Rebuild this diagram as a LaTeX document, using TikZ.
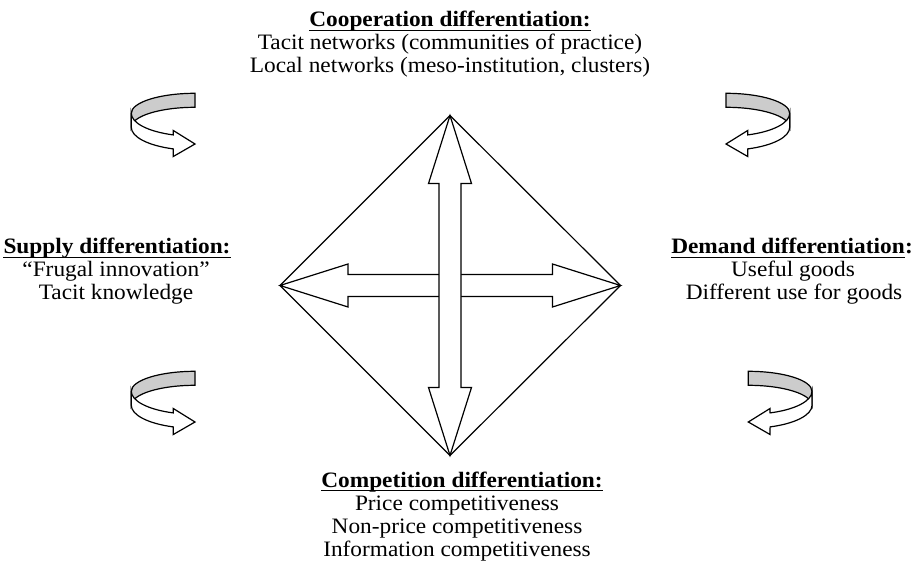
\documentclass[tikz,border=0pt]{standalone}
\usepackage{fontspec}
\setmainfont[FakeStretch=1.06]{Liberation Serif}
\begin{document}
\begin{tikzpicture}[x=1pt,y=1pt,
  shape line/.style={draw=black, line width=1.2pt, line join=miter},
  band back/.style={shape line, fill=black!20},
  band front/.style={shape line, fill=white},
  txt/.style={inner sep=0pt, anchor=base, font=\fontsize{22}{23}\selectfont},
  hdr/.style={inner sep=0pt, anchor=base, font=\fontsize{22}{23}\selectfont\bfseries},
  uline/.style={line width=1.3pt},
  ribarrow/.pic={
    \path[band back] (0,20) arc[start angle=90,end angle=180,x radius=63.7,y radius=20]
       -- ++(0,-14) arc[start angle=180,end angle=90,x radius=63.7,y radius=20] -- cycle;
    \path[band front] (-63.7,0) arc[start angle=180,end angle=250,x radius=63.7,y radius=23]
       -- (-21.7,-17.2) -- (0,-30.7) -- (-21.7,-43.2) -- (-21.8,-35.6)
       arc[start angle=250,end angle=180,x radius=63.7,y radius=23] -- cycle;
  }]
\useasboundingbox (0,0) rectangle (912,573);

% curved ribbon arrows
\pic at (195,459.7) {ribarrow};
\pic[xscale=-1] at (726,459.7) {ribarrow};
\pic at (195,181.7) {ribarrow};
\pic[xscale=-1] at (748.3,181.7) {ribarrow};

% diamond
\coordinate (T) at (450,457.5);
\coordinate (B) at (450,117.5);
\coordinate (L) at (280,287.5);
\coordinate (R) at (620.5,287.5);
\draw[shape line] (T) -- (R) -- (B) -- (L) -- cycle;

% horizontal double arrow
\path[shape line, fill=white] (L) -- ([shift={(68,21.5)}]L) -- ([shift={(68,11)}]L)
  -- ([shift={(-68,11)}]R) -- ([shift={(-68,21.5)}]R) -- (R)
  -- ([shift={(-68,-21.5)}]R) -- ([shift={(-68,-11)}]R)
  -- ([shift={(68,-11)}]L) -- ([shift={(68,-21.5)}]L) -- cycle;

% vertical double arrow
\path[shape line, fill=white] (T) -- ([shift={(21.5,-68)}]T) -- ([shift={(11,-68)}]T)
  -- ([shift={(11,68)}]B) -- ([shift={(21.5,68)}]B) -- (B)
  -- ([shift={(-21.5,68)}]B) -- ([shift={(-11,68)}]B)
  -- ([shift={(-11,-68)}]T) -- ([shift={(-21.5,-68)}]T) -- cycle;

% top text
\node[hdr] (coophd) at (450,546) {Cooperation differentiation:};
\node[txt] (coop1) at (450,523) {Tacit networks (communities of practice)};
\node[txt] (coop2) at (450,500) {Local networks (meso-institution, clusters)};
\draw[uline] ([yshift=-3.5pt]coophd.base west) -- ([yshift=-3.5pt]coophd.base east);

% left text
\node[hdr] (suphd) at (117,319) {Supply differentiation:};
\node[txt] (sup1) at (116,296) {“Frugal innovation”};
\node[txt] (sup2) at (116,273) {Tacit knowledge};
\draw[uline] ([yshift=-3.5pt]suphd.base west) -- ([yshift=-3.5pt]suphd.base east);

% right text
\node[hdr] (demhd) at (788,319) {Demand differentiation};
\node[hdr, anchor=base west] (demcol) at (demhd.base east) {:};
\node[txt] (dem1) at (793,296) {Useful goods};
\node[txt] (dem2) at (794,273) {Different use for goods};
\draw[uline] ([yshift=-3.5pt]demhd.base west) -- ([yshift=-3.5pt]demhd.base east);

% bottom text
\node[hdr] (comphd) at (462,86) {Competition differentiation:};
\node[txt] (comp1) at (457,63) {Price competitiveness};
\node[txt] (comp2) at (457,40) {Non-price competitiveness};
\node[txt] (comp3) at (457,17) {Information competitiveness};
\draw[uline] ([yshift=-3.5pt]comphd.base west) -- ([yshift=-3.5pt]comphd.base east);
\end{tikzpicture}
\end{document}
